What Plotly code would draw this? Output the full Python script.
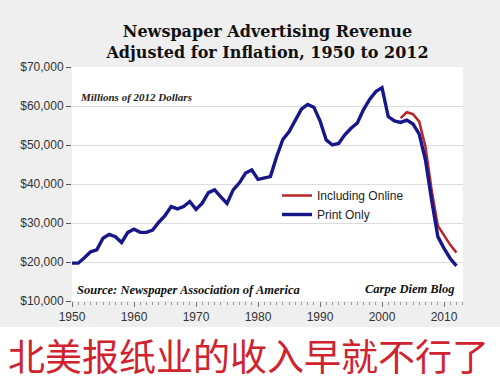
import plotly.graph_objects as go

years = list(range(1950, 2013))
print_only = [19.7, 19.7, 21.1, 22.6, 23.1, 26.1, 27.1, 26.5, 25.0, 27.6,
              28.4, 27.6, 27.6, 28.2, 30.2, 31.9, 34.2, 33.6, 34.2, 35.5,
              33.5, 35.1, 37.8, 38.5, 36.7, 35.0, 38.5, 40.3, 42.8, 43.6,
              41.2, 41.6, 41.9, 47.0, 51.4, 53.4, 56.4, 59.2, 60.4, 59.7,
              56.2, 51.3, 50.0, 50.4, 52.6, 54.3, 55.6, 59.0, 61.7, 63.7,
              64.7, 57.3, 56.2, 55.8, 56.4, 55.4, 52.8, 46.2, 35.9, 26.5,
              23.5, 20.9, 19.0]
online_years = list(range(2003, 2013))
including_online = [56.9, 58.4, 57.9, 56.0, 49.6, 38.5, 29.3, 26.9, 24.4, 22.4]

print_vals = [v * 1000 for v in print_only]
online_vals = [v * 1000 for v in including_online]

W, H = 500, 389
L, R, T, B = 72, 37, 67, 88
pw, ph = W - L - R, H - T - B

def px(x):
    return (x - L) / pw

def py(y):
    return (H - B - y) / ph

serif = "Liberation Serif, DejaVu Serif, serif"
title_serif = "DejaVu Serif, serif"
sans = "Liberation Sans, Arial, sans-serif"

fig = go.Figure()
fig.add_trace(go.Scatter(x=online_years, y=online_vals, mode="lines",
                         name="Including Online",
                         line=dict(color="#b8262a", width=2.5)))
fig.add_trace(go.Scatter(x=years, y=print_vals, mode="lines",
                         name="Print Only",
                         line=dict(color="#17178a", width=3.4)))

fig.update_layout(
    width=W, height=H,
    margin=dict(l=L, r=R, t=T, b=B),
    paper_bgcolor="#efefef",
    plot_bgcolor="#ffffff",
    title=dict(text="Newspaper Advertising Revenue<br>Adjusted for Inflation, 1950 to 2012",
               font=dict(family=title_serif, size=16, color="#111111", weight="bold"),
               x=px(267.5), xref="paper", xanchor="center",
               y=(H - 37) / H, yref="container", yanchor="top"),
    showlegend=True,
    legend=dict(x=px(277), y=py(181), xanchor="left", yanchor="top",
                bgcolor="rgba(0,0,0,0)", font=dict(family=sans, size=12, color="#222222"),
                traceorder="normal", tracegroupgap=0, itemwidth=30),
    xaxis=dict(range=[1950, 2013.06], tickmode="linear", tick0=1950, dtick=10,
               showgrid=False, zeroline=False, showline=False,
               ticks="outside", ticklen=5, tickcolor="#777777", tickwidth=1,
               minor=dict(dtick=1, ticks="outside", ticklen=3, tickcolor="#999999", tickwidth=1),
               tickfont=dict(family=sans, size=12, color="#333333")),
    yaxis=dict(range=[10000, 70000], tickmode="linear", tick0=10000, dtick=10000,
               tickprefix="$", tickformat=",d",
               showgrid=True, gridcolor="#dcdcdc", gridwidth=1,
               zeroline=False, showline=False,
               ticks="outside", ticklen=5, tickcolor="#555555",
               tickfont=dict(family=sans, size=12, color="#333333")),
)

fig.add_shape(type="rect", xref="paper", yref="paper",
              x0=px(0), x1=px(W), y0=py(H), y1=py(327),
              fillcolor="#ffffff", line=dict(width=0), layer="below")

fig.add_annotation(text="Millions of 2012 Dollars", xref="paper", yref="paper",
                   x=px(78), y=py(97), xanchor="left", yanchor="middle", showarrow=False,
                   font=dict(family=serif, size=11, color="#222222", style="italic", weight="bold"))
fig.add_annotation(text="Source: Newspaper Association of America", xref="paper", yref="paper",
                   x=px(75), y=py(290), xanchor="left", yanchor="middle", showarrow=False,
                   font=dict(family=serif, size=12.5, color="#111111", style="italic", weight="bold"))
fig.add_annotation(text="Carpe Diem Blog", xref="paper", yref="paper",
                   x=px(457), y=py(289), xanchor="right", yanchor="middle", showarrow=False,
                   font=dict(family=serif, size=12.5, color="#111111", style="italic", weight="bold"))
fig.add_annotation(text="北美报纸业的收入早就不行了", xref="paper", yref="paper",
                   x=px(248), y=py(355), xanchor="center", yanchor="middle", showarrow=False,
                   font=dict(family="Noto Sans CJK SC", size=37, color="#d0232e"))

fig.write_html("out.html", config={"displayModeBar": False},
               post_script="document.body.style.margin='0';document.body.style.overflow='hidden';")
